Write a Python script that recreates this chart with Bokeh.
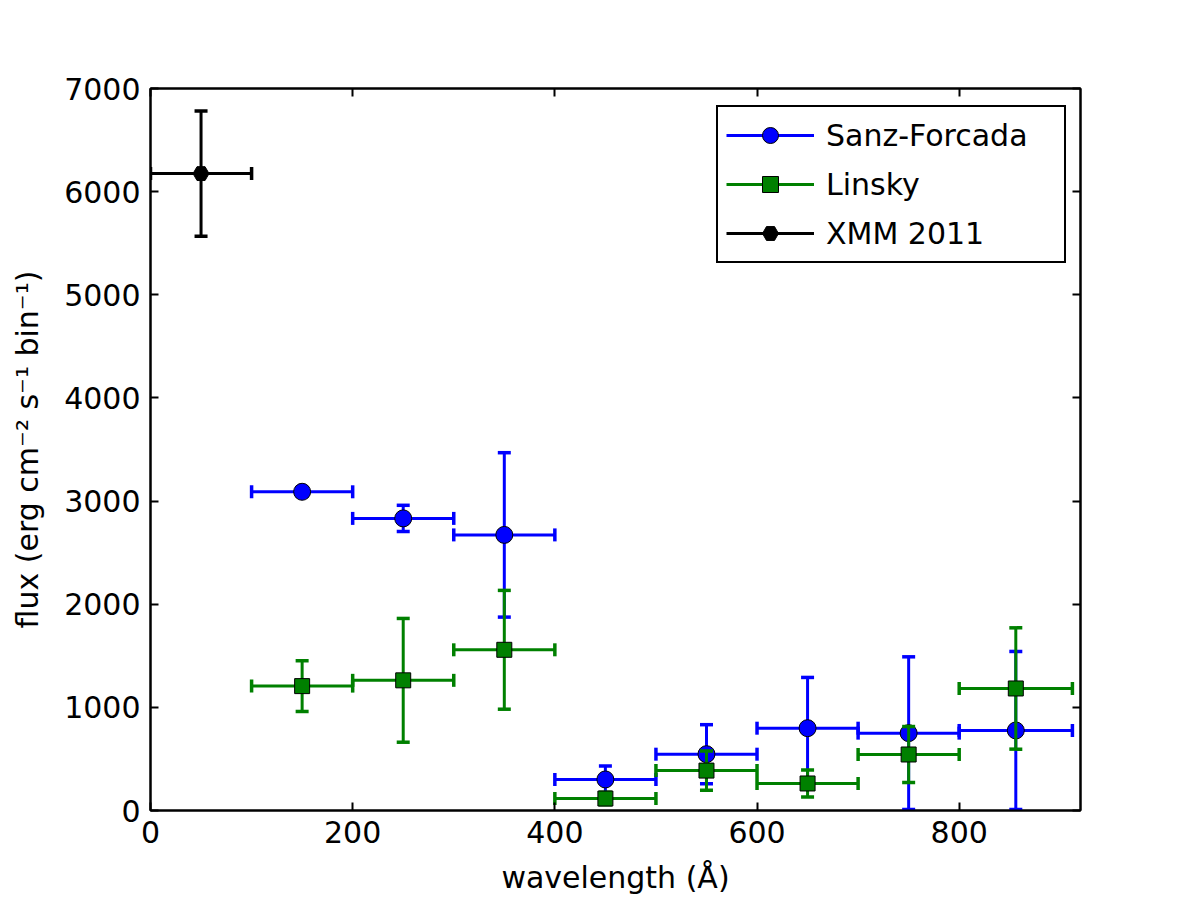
import numpy as np
from bokeh.plotting import figure
from bokeh.models import (ColumnDataSource, FixedTicker, LinearAxis, Legend,
                          LegendItem, Range1d)
from bokeh.embed import file_html
from bokeh.resources import INLINE

# ---------------- data ----------------
wl_bins = [150, 250, 350, 450, 550, 650, 750, 856]
wl_halfwidth = [50, 50, 50, 50, 50, 50, 50, 56]

sanz_flux = [3090, 2832, 2672, 301, 546, 798, 750, 776]
sanz_err = [40, 127, 797, 130, 286, 492, 740, 766]

linsky_flux = [1206, 1262, 1558, 116, 387, 262, 543, 1183]
linsky_err = [246, 600, 576, 60, 190, 130, 271, 588]

xmm_wl = [50]
xmm_halfwidth = [50]
xmm_flux = [6175]
xmm_err = [607]

x_ticks = [0, 200, 400, 600, 800]
y_ticks = [0, 1000, 2000, 3000, 4000, 5000, 6000, 7000]

FONT = "DejaVu Sans"

p = figure(frame_width=930, frame_height=722,
           x_range=Range1d(0, 920), y_range=Range1d(0, 7000),
           output_backend="svg", toolbar_location=None,
           min_border_left=150, min_border_right=120,
           min_border_top=88, min_border_bottom=90,
           background_fill_color="white", border_fill_color="white")
p.xgrid.visible = False
p.ygrid.visible = False
p.outline_line_color = "black"
p.outline_line_width = 2
p.outline_line_alpha = 1

p.xaxis.axis_label = "wavelength (Å)"
p.yaxis.axis_label = "flux (erg cm⁻² s⁻¹ bin⁻¹)"

p.add_layout(LinearAxis(), "above")
p.add_layout(LinearAxis(), "right")

for ax, ticks in ((p.xaxis, x_ticks), (p.yaxis, y_ticks)):
    for a in ax:
        a.ticker = FixedTicker(ticks=ticks)
        a.axis_line_color = "black"
        a.axis_line_width = 2
        a.major_tick_in = 8
        a.major_tick_out = 0
        a.minor_tick_in = 0
        a.minor_tick_out = 0
        a.major_tick_line_width = 2
        a.major_tick_line_color = "black"
        a.major_label_text_font = FONT
        a.major_label_text_font_size = "30px"
        a.major_label_text_color = "black"
        a.major_label_standoff = 10
        a.axis_label_text_font = FONT
        a.axis_label_text_font_size = "30px"
        a.axis_label_text_font_style = "normal"
        a.axis_label_text_color = "black"

# top and right axes: ticks only, no labels
p.above[0].major_label_overrides = {t: "" for t in x_ticks}
p.above[0].major_label_standoff = 0
p.right[0].major_label_overrides = {t: "" for t in y_ticks}
p.right[0].major_label_standoff = 0
p.below[0].axis_label_standoff = 14
p.left[0].axis_label_standoff = 16


def errorbar(x, xe, y, ye, color, marker, size):
    x = np.array(x, float); xe = np.array(xe, float)
    y = np.array(y, float); ye = np.array(ye, float)
    src = ColumnDataSource(dict(x=x, y=y, xlo=x - xe, xhi=x + xe,
                                ylo=y - ye, yhi=y + ye))
    hseg = p.segment(x0="xlo", y0="y", x1="xhi", y1="y", source=src,
                     line_color=color, line_width=3)
    p.segment(x0="x", y0="ylo", x1="x", y1="yhi", source=src,
              line_color=color, line_width=3)
    for col in ("xlo", "xhi"):
        p.scatter(x=col, y="y", source=src, marker="dash", angle=np.pi / 2,
                  size=13, line_color=color, line_width=3.5)
    for col in ("ylo", "yhi"):
        p.scatter(x="x", y=col, source=src, marker="dash",
                  size=13, line_color=color, line_width=3.5)
    mk = p.scatter(x="x", y="y", source=src, marker=marker, size=size,
                   fill_color=color, line_color="black", line_width=1)
    return [hseg, mk]


r_sanz = errorbar(wl_bins, wl_halfwidth, sanz_flux, sanz_err, "#0000ff", "circle", 17)
r_lin = errorbar(wl_bins, wl_halfwidth, linsky_flux, linsky_err, "#008000", "square", 15)
r_xmm = errorbar(xmm_wl, xmm_halfwidth, xmm_flux, xmm_err, "black", "hex", 16)

legend = Legend(items=[LegendItem(label="Sanz-Forcada", renderers=r_sanz),
                       LegendItem(label="Linsky", renderers=r_lin),
                       LegendItem(label="XMM 2011", renderers=r_xmm)],
                location=(566, 547))
legend.label_text_font = FONT
legend.label_text_font_size = "30px"
legend.label_text_color = "black"
legend.glyph_width = 88
legend.glyph_height = 40
legend.label_height = 40
legend.label_width = 230
legend.label_standoff = 12
legend.spacing = 9
legend.padding = 8
legend.margin = 0
legend.border_line_color = "black"
legend.border_line_width = 2
legend.border_line_alpha = 1
legend.background_fill_alpha = 1
p.add_layout(legend, "center")

open("out.html", "w").write(file_html(p, INLINE))
